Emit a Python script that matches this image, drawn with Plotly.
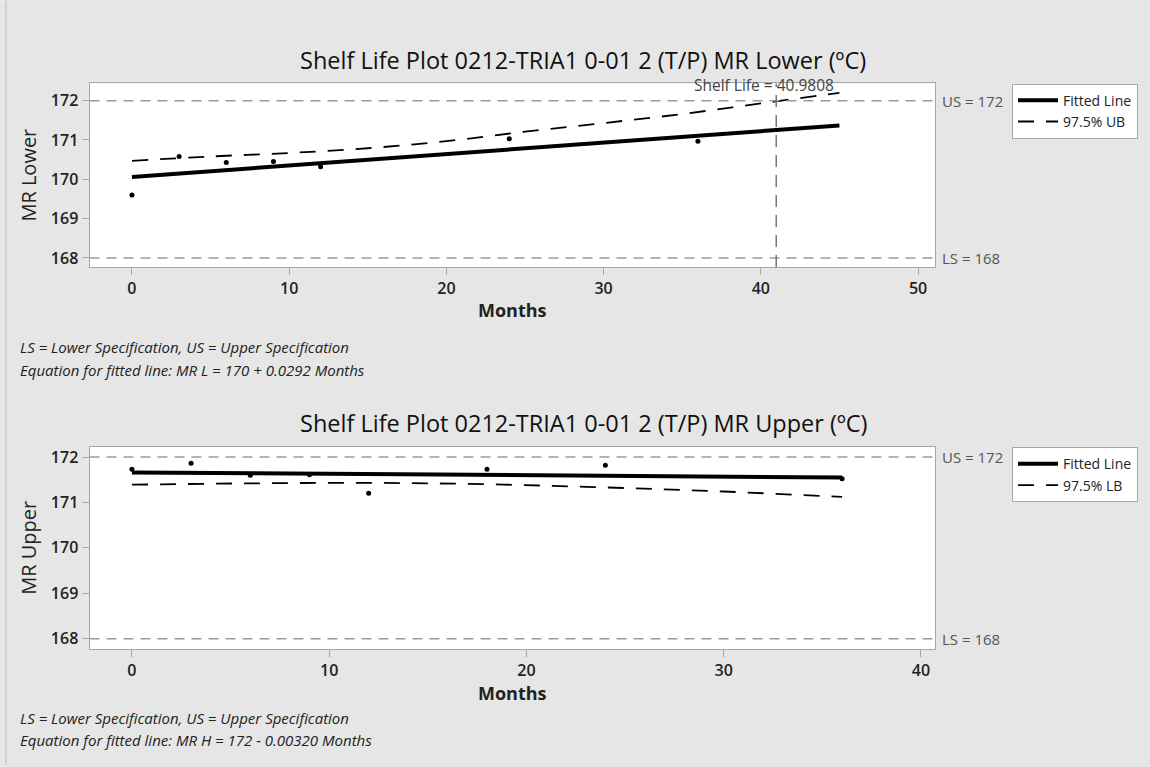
import plotly.graph_objects as go

# ---------------- data ----------------
# Top panel: MR Lower
lower_months = [0, 3, 6, 9, 12, 24, 36]
lower_values = [169.60, 170.58, 170.43, 170.45, 170.32, 171.03, 170.97]
lower_fit_x = [0, 45]
lower_fit_y = [170.06, 171.37]
lower_ub_x = [0, 5, 10, 15, 20, 25, 30, 35, 40, 45]
lower_ub_y = [170.47, 170.58, 170.67, 170.79, 170.97, 171.21, 171.43, 171.66, 171.93, 172.20]
shelf_life = 40.9808

# Bottom panel: MR Upper
upper_months = [0, 3, 6, 9, 12, 18, 24, 36]
upper_values = [171.73, 171.86, 171.60, 171.61, 171.20, 171.73, 171.82, 171.52]
upper_fit_x = [0, 36]
upper_fit_y = [171.66, 171.55]
upper_lb_x = [0, 6, 12, 18, 24, 30, 36]
upper_lb_y = [171.39, 171.42, 171.43, 171.40, 171.33, 171.24, 171.12]

spec_upper = 172
spec_lower = 168
y_ticks = [168, 169, 170, 171, 172]
x_ticks_top = [0, 10, 20, 30, 40, 50]
x_ticks_bottom = [0, 10, 20, 30, 40]

title_top = "Shelf Life Plot 0212-TRIA1 0-01 2 (T/P) MR Lower (ºC)"
title_bottom = "Shelf Life Plot 0212-TRIA1 0-01 2 (T/P) MR Upper (ºC)"
note1 = "LS = Lower Specification, US = Upper Specification"
note_top = "Equation for fitted line: MR L = 170 + 0.0292 Months"
note_bottom = "Equation for fitted line: MR H = 172 - 0.00320 Months"

# ---------------- layout helpers ----------------
W, H = 1150, 767
FONT = "Open Sans"
BG = "#e6e6e6"


def px_x(p):
    return p / W


def px_y(p):
    return 1 - p / H


fig = go.Figure()

# top traces
fig.add_trace(go.Scatter(x=lower_fit_x, y=lower_fit_y, mode="lines", name="Fitted Line",
                         line=dict(color="black", width=4), xaxis="x", yaxis="y", legend="legend"))
fig.add_trace(go.Scatter(x=lower_ub_x, y=lower_ub_y, mode="lines", name="97.5% UB",
                         line=dict(color="black", width=1.8, dash="16px,12px"), line_shape="spline",
                         xaxis="x", yaxis="y", legend="legend"))
fig.add_trace(go.Scatter(x=lower_months, y=lower_values, mode="markers", showlegend=False,
                         marker=dict(color="black", size=5), xaxis="x", yaxis="y"))

# bottom traces
fig.add_trace(go.Scatter(x=upper_fit_x, y=upper_fit_y, mode="lines", name="Fitted Line",
                         line=dict(color="black", width=4), xaxis="x2", yaxis="y2", legend="legend2"))
fig.add_trace(go.Scatter(x=upper_lb_x, y=upper_lb_y, mode="lines", name="97.5% LB",
                         line=dict(color="black", width=1.8, dash="16px,12px"), line_shape="spline",
                         xaxis="x2", yaxis="y2", legend="legend2"))
fig.add_trace(go.Scatter(x=upper_months, y=upper_values, mode="markers", showlegend=False,
                         marker=dict(color="black", size=5), xaxis="x2", yaxis="y2"))

axis_common = dict(
    showgrid=False, zeroline=False, showline=True, linecolor="#a8a8a8", linewidth=1, mirror=True,
    ticks="outside", ticklen=7, tickcolor="#a8a8a8",
    tickfont=dict(family=FONT, size=16, color="#222", weight=600),
)

x_dom = [px_x(89.5), px_x(935)]
fig.update_layout(
    width=W, height=H,
    margin=dict(l=0, r=0, t=0, b=0),
    paper_bgcolor=BG, plot_bgcolor="white",
    xaxis=dict(domain=x_dom, range=[-2.70, 51.08], tickvals=x_ticks_top, anchor="y",
               title=dict(text="Months", font=dict(family=FONT, size=18, color="#222", weight=700), standoff=6),
               **axis_common),
    yaxis=dict(domain=[px_y(267), px_y(82.7)], range=[167.77, 172.44], tickvals=y_ticks, anchor="x",
               title=dict(text="MR Lower", font=dict(family=FONT, size=20, color="#222"), standoff=8),
               **axis_common),
    xaxis2=dict(domain=x_dom, range=[-2.15, 40.71], tickvals=x_ticks_bottom, anchor="y2",
                title=dict(text="Months", font=dict(family=FONT, size=18, color="#222", weight=700), standoff=6),
                **axis_common),
    yaxis2=dict(domain=[px_y(650.7), px_y(447.3)], range=[167.77, 172.23], tickvals=y_ticks, anchor="x2",
                title=dict(text="MR Upper", font=dict(family=FONT, size=20, color="#222"), standoff=8),
                **axis_common),
    legend=dict(x=px_x(1012), y=px_y(83), xanchor="left", yanchor="top",
                bgcolor="white", bordercolor="#a8a8a8", borderwidth=1,
                font=dict(family=FONT, size=14, color="#222"), tracegroupgap=0, itemwidth=40),
    legend2=dict(x=px_x(1012), y=px_y(448), xanchor="left", yanchor="top",
                 bgcolor="white", bordercolor="#a8a8a8", borderwidth=1,
                 font=dict(family=FONT, size=14, color="#222"), tracegroupgap=0, itemwidth=40),
    showlegend=True,
)

shapes = []
annotations = []
for xa, ya in (("x", "y"), ("x2", "y2")):
    for val in (spec_upper, spec_lower):
        shapes.append(dict(type="line", xref=f"{xa} domain", yref=ya, x0=0, x1=1, y0=val, y1=val,
                           line=dict(color="#9a9a9a", width=1.5, dash="10px,7px")))
    annotations.append(dict(xref=f"{xa} domain", yref=ya, x=1, y=spec_upper, xanchor="left", xshift=5,
                            text=f"US = {spec_upper}", showarrow=False,
                            font=dict(family=FONT, size=15, color="#555")))
    annotations.append(dict(xref=f"{xa} domain", yref=ya, x=1, y=spec_lower, xanchor="left", xshift=5,
                            text=f"LS = {spec_lower}", showarrow=False,
                            font=dict(family=FONT, size=15, color="#555")))

# shelf life line
shapes.append(dict(type="line", xref="x", yref="y domain", x0=shelf_life, x1=shelf_life, y0=0, y1=1,
                   line=dict(color="#777", width=1.5, dash="12px,8px")))
annotations.append(dict(xref="x", yref="paper", x=shelf_life, y=px_y(71), xshift=-12,
                        text=f"Shelf Life = {shelf_life}", showarrow=False,
                        font=dict(family=FONT, size=15.5, color="#444")))

# left frame line
shapes.append(dict(type="line", xref="paper", yref="paper", x0=px_x(6), x1=px_x(6), y0=0, y1=1,
                   line=dict(color="#bbbbbb", width=1)))

# titles
annotations.append(dict(xref="paper", yref="paper", x=px_x(583), y=px_y(41), text=title_top,
                        showarrow=False, font=dict(family=FONT, size=23.5, color="#111")))
annotations.append(dict(xref="paper", yref="paper", x=px_x(583), y=px_y(424), text=title_bottom,
                        showarrow=False, font=dict(family=FONT, size=23.5, color="#111")))

# notes
for txt, ypix in ((note1, 347), (note_top, 370), (note1, 732), (note_bottom, 754)):
    annotations.append(dict(xref="paper", yref="paper", x=px_x(18), y=px_y(ypix), xanchor="left",
                            text=f"<i>{txt}</i>", showarrow=False,
                            font=dict(family=FONT, size=15, color="#222")))

fig.update_layout(shapes=shapes, annotations=annotations)

fig.write_html("out.html")
